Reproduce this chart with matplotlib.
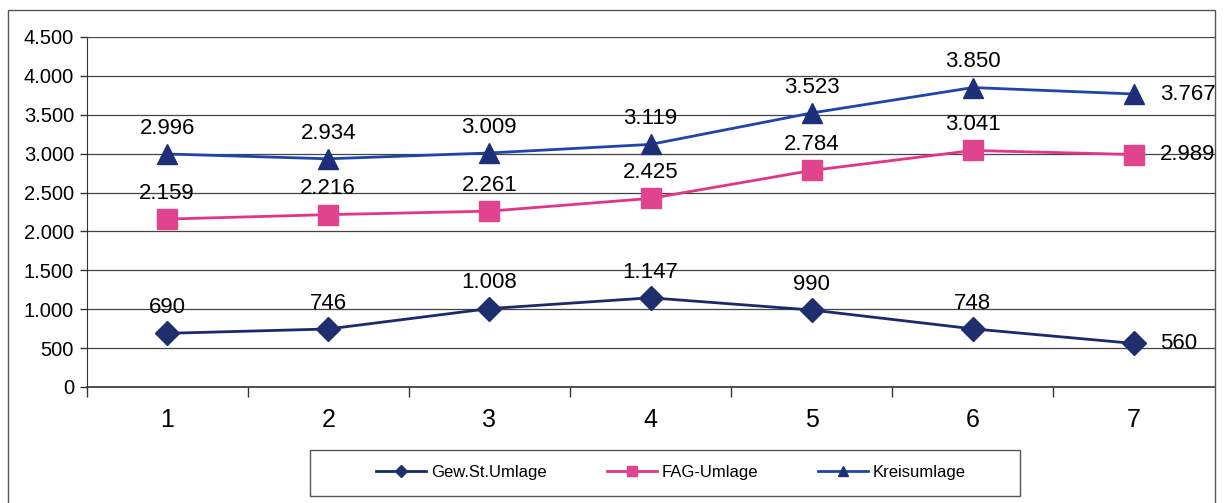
import matplotlib
matplotlib.use("Agg")
import matplotlib.pyplot as plt
from matplotlib.patches import Rectangle
from matplotlib.ticker import FuncFormatter

plt.rcParams['font.family'] = ['Liberation Sans', 'DejaVu Sans']

categories = [1, 2, 3, 4, 5, 6, 7]
gew = [690, 746, 1008, 1147, 990, 748, 560]
fag = [2159, 2216, 2261, 2425, 2784, 3041, 2989]
kreis = [2996, 2934, 3009, 3119, 3523, 3850, 3767]
series_names = ["Gew.St.Umlage", "FAG-Umlage", "Kreisumlage"]
yticks = [0, 500, 1000, 1500, 2000, 2500, 3000, 3500, 4000, 4500]

def de(v):
    return f"{v:,.0f}".replace(",", ".")

fig = plt.figure(figsize=(12.24, 5.03), dpi=100)
W, H = 1224, 503
ax = fig.add_axes([86.5 / W, 1 - 387 / H, (1214.5 - 86.5) / W, (387 - 37) / H])

# outer frame
fig.patches.append(Rectangle((8 / W, -0.1), (1215 - 8) / W, 1 - 10 / H + 0.1,
                             transform=fig.transFigure, fill=False,
                             edgecolor='#555555', linewidth=1.0))
# legend frame
fig.patches.append(Rectangle((310 / W, 1 - 496 / H), (1020 - 310) / W, (496 - 450) / H,
                             transform=fig.transFigure, fill=False,
                             edgecolor='#555555', linewidth=1.0))

c_gew = '#1b2a6b'
c_fag = '#e2358a'
c_kreis_line = '#1f45a8'
c_kreis_m = '#1c2f78'

ax.plot(categories, gew, color=c_gew, lw=2, marker='D', ms=12, mfc='#1f2f6e', mec='#1f2f6e', zorder=3)
ax.plot(categories, fag, color=c_fag, lw=2, marker='s', ms=15, mfc='#e0448f', mec='#e0448f', zorder=3)
ax.plot(categories, kreis, color=c_kreis_line, lw=2, marker='^', ms=15, mfc=c_kreis_m, mec=c_kreis_m, zorder=3)

ax.set_xlim(0.5, 7.5)
ax.set_ylim(0, 4500)
ax.set_yticks(yticks)
ax.yaxis.set_major_formatter(FuncFormatter(lambda v, p: de(v)))
ax.set_xticks(categories)
ax.set_xticklabels([str(c) for c in categories], fontsize=18)
ax.set_xticks([c + 0.5 for c in categories[:-1]] + [0.5], minor=True)
ax.tick_params(axis='x', which='major', length=0, pad=15)
ax.tick_params(axis='x', which='minor', length=7, width=1, direction='out', color='#333333')
ax.tick_params(axis='y', length=5, width=1, labelsize=14.5, color='#333333', pad=4)
ax.grid(axis='y', color='#444444', lw=0.9)
ax.set_axisbelow(True)
for s in ['top', 'right']:
    ax.spines[s].set_visible(False)
ax.spines['left'].set_color('#333333')
ax.spines['bottom'].set_color('#333333')
ax.spines['bottom'].set_linewidth(1.2)

fs = 16
for series in (gew, fag, kreis):
    for i, (x, y) in enumerate(zip(categories, series)):
        if i == len(series) - 1:
            ax.annotate(de(y), (x, y), xytext=(19, 0), textcoords='offset points',
                        ha='left', va='center', fontsize=fs, clip_on=False)
        else:
            ax.annotate(de(y), (x, y), xytext=(0, 11), textcoords='offset points',
                        ha='center', va='bottom', fontsize=fs)

handles = ax.get_lines()
leg = fig.legend(handles, series_names, loc='center', bbox_to_anchor=(671 / W, 1 - 472 / H),
                 ncol=3, frameon=False, fontsize=12,
                 markerscale=0.5, handlelength=3.0, columnspacing=3.6,
                 handletextpad=0.3)

fig.savefig("out.png", dpi=100)
